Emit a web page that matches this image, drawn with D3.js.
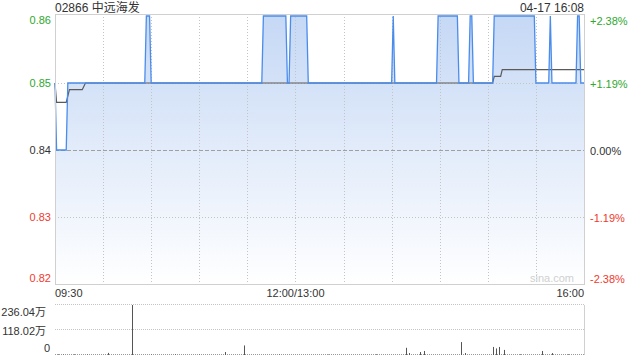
<!DOCTYPE html>
<html>
<head>
<meta charset="utf-8">
<script src="https://cdn.jsdelivr.net/npm/d3@7"></script>
<style>
  body { margin: 0; background: #fff; }
  svg text { font-family: "Liberation Sans", Arial, "Noto Sans CJK SC", sans-serif; }
</style>
</head>
<body>
<div id="chart"></div>
<script>
// minute index from 09:30 (lunch break collapsed), 0..330 = 09:30..16:00
const priceMinutes = [0, 1, 7, 8, 56, 57, 59, 60, 129, 130, 144, 145, 146, 147, 157, 158,
  210, 211, 212, 238, 239, 251, 252, 258, 259, 260, 261, 273, 274, 299, 300,
  308, 309, 310, 325, 326, 327, 328, 330]
const priceValues = [0.85, 0.84, 0.84, 0.85, 0.85, 0.86, 0.86, 0.85, 0.85, 0.86, 0.86, 0.85, 0.85, 0.86, 0.86, 0.85,
  0.85, 0.86, 0.85, 0.85, 0.86, 0.86, 0.85, 0.85, 0.86, 0.86, 0.85, 0.85, 0.86, 0.86, 0.85,
  0.85, 0.86, 0.85, 0.85, 0.86, 0.86, 0.85, 0.85]

const avgMinutes = [0, 1, 7, 9, 17, 19, 273, 274, 278, 279, 330]
const avgValues = [0.85, 0.8471, 0.8471, 0.849, 0.849, 0.85, 0.85, 0.851, 0.851, 0.852, 0.852]

// volume in 万 shares
const volMinutes = [2, 5, 12, 20, 33, 48, 60, 75, 90, 106, 118, 140, 170, 200, 219, 221, 228, 230, 253, 256, 273, 275, 277, 280, 290, 304, 310, 320]
const volValues = [3, 2, 3, 2, 10, 236.04, 2, 3, 2, 14, 45, 2, 2, 3, 34, 9, 14, 19, 61, 9, 38, 31, 38, 24, 3, 19, 9, 3]

const prevClose = 0.84
const priceTicks = [0.86, 0.85, 0.84, 0.83, 0.82]
const pctTicks = ['+2.38%', '+1.19%', '0.00%', '-1.19%', '-2.38%']
const volTicks = [236.04, 118.02, 0]
const volTickLabels = ['236.04万', '118.02万', '0']
const timeTicks = [0, 150, 330]
const timeLabels = ['09:30', '12:00/13:00', '16:00']
const title = '02866 中远海发'
const stamp = '04-17 16:08'

const green = '#2ea82e', red = '#f03a2e', dark = '#333'
const colorFor = (v) => v > prevClose ? green : (v < prevClose ? red : dark)

const width = 640, height = 360,
  left = 55, right = 584

const svg = d3.select('#chart').append('svg')
  .attr('width', width)
  .attr('height', height)

const x = d3.scaleLinear().domain([0, 330]).range([left, right])
const y = d3.scaleLinear().domain([0.82, 0.86]).range([284, 16])
const yv = d3.scaleLinear().domain([0, 236.04]).range([355, 305])

// gradient for area
const grad = svg.append('defs').append('linearGradient')
  .attr('id', 'fillGrad')
  .attr('gradientUnits', 'userSpaceOnUse')
  .attr('x1', 0).attr('y1', y(0.86)).attr('x2', 0).attr('y2', y(0.82))
grad.append('stop').attr('offset', '0%').attr('stop-color', '#c5d8f5')
grad.append('stop').attr('offset', '100%').attr('stop-color', '#ffffff')

// titles
svg.append('text')
  .attr('x', left).attr('y', 11.5)
  .attr('font-size', '12px').attr('fill', dark)
  .text(title)
svg.append('text')
  .attr('x', right).attr('y', 11.5)
  .attr('text-anchor', 'end')
  .attr('font-size', '12px').attr('fill', dark)
  .text(stamp)

const pricePts = priceMinutes.map((m, i) => [m, priceValues[i]])
const avgPts = avgMinutes.map((m, i) => [m, avgValues[i]])

// area
svg.append('path')
  .datum(pricePts)
  .attr('fill', 'url(#fillGrad)')
  .attr('d', d3.area()
    .x((d) => x(d[0]))
    .y0(y(0.82))
    .y1((d) => y(d[1])))

// vertical grid
const vGrid = d3.range(30, 330, 30)
svg.append('g').selectAll('line')
  .data(vGrid)
  .enter().append('line')
  .attr('x1', (d) => Math.round(x(d)) + 0.5).attr('x2', (d) => Math.round(x(d)) + 0.5)
  .attr('y1', 14).attr('y2', 284)
  .attr('stroke', '#c4c4c4').attr('stroke-dasharray', '1,2')

// horizontal grid
svg.append('g').selectAll('line')
  .data(priceTicks.filter((d) => d !== 0.82 && d !== 0.86))
  .enter().append('line')
  .attr('x1', left).attr('x2', right)
  .attr('y1', (d) => Math.round(y(d)) + 0.5).attr('y2', (d) => Math.round(y(d)) + 0.5)
  .attr('stroke', (d) => d === prevClose ? '#a0a0a0' : '#c4c4c4')
  .attr('stroke-dasharray', (d) => d === prevClose ? '4,2' : '1,2')

svg.append('path')
  .datum(avgPts)
  .attr('fill', 'none')
  .attr('stroke', '#5a5a5a')
  .attr('stroke-width', 1.2)
  .attr('d', d3.line().x((d) => x(d[0])).y((d) => y(d[1])))

svg.append('path')
  .datum(pricePts)
  .attr('fill', 'none')
  .attr('stroke', '#4a8cec')
  .attr('stroke-width', 1.3)
  .attr('d', d3.line().x((d) => x(d[0])).y((d) => y(d[1])))

// border
svg.append('rect')
  .attr('x', left + 0.5).attr('y', 14.5)
  .attr('width', right - left).attr('height', 284 - 14)
  .attr('fill', 'none').attr('stroke', '#d0d0d0')

// watermark
svg.append('text')
  .attr('x', right - 10).attr('y', 282)
  .attr('text-anchor', 'end')
  .attr('font-size', '11px').attr('fill', '#d0d0d0')
  .text('sina.com')

// y labels
const labelY = (v) => Math.min(Math.max(y(v), 20), 278)
svg.append('g').selectAll('text')
  .data(priceTicks)
  .enter().append('text')
  .attr('x', 51).attr('y', (d) => labelY(d))
  .attr('dy', '0.35em')
  .attr('text-anchor', 'end')
  .attr('font-size', '11px')
  .attr('fill', (d) => colorFor(d))
  .text((d) => d.toFixed(2))

svg.append('g').selectAll('text')
  .data(priceTicks)
  .enter().append('text')
  .attr('x', 590).attr('y', (d) => labelY(d) + 1)
  .attr('dy', '0.35em')
  .attr('font-size', '11px')
  .attr('fill', (d) => colorFor(d))
  .text((d, i) => pctTicks[i])

// time labels
svg.append('g').selectAll('text')
  .data(timeTicks)
  .enter().append('text')
  .attr('x', (d) => x(d))
  .attr('y', 297)
  .attr('text-anchor', (d, i) => i === 0 ? 'start' : (i === timeTicks.length - 1 ? 'end' : 'middle'))
  .attr('font-size', '11px').attr('fill', dark)
  .text((d, i) => timeLabels[i])

// volume grid
svg.append('g').selectAll('line')
  .data(volTicks)
  .enter().append('line')
  .attr('x1', left).attr('x2', right)
  .attr('y1', (d) => Math.round(yv(d)) - 0.5).attr('y2', (d) => Math.round(yv(d)) - 0.5)
  .attr('stroke', (d) => d === 0 ? '#999' : '#c4c4c4')
  .attr('stroke-dasharray', '1,1')

svg.append('line')
  .attr('x1', right + 0.5).attr('x2', right + 0.5)
  .attr('y1', 305).attr('y2', 355)
  .attr('stroke', '#d0d0d0')

svg.append('g').selectAll('line')
  .data(volMinutes.map((m, i) => [m, volValues[i]]))
  .enter().append('line')
  .attr('x1', (d) => Math.round(x(d[0])) + 0.5).attr('x2', (d) => Math.round(x(d[0])) + 0.5)
  .attr('y1', yv(0)).attr('y2', (d) => yv(d[1]))
  .attr('stroke', '#555').attr('stroke-width', 1)

const volLabelY = [312, 331.5, 348]
svg.append('g').selectAll('text')
  .data(volTicks)
  .enter().append('text')
  .attr('x', (d) => d === 0 ? 50 : 46)
  .attr('y', (d, i) => volLabelY[i])
  .attr('dy', '0.35em')
  .attr('text-anchor', 'end')
  .attr('font-size', '11px').attr('fill', dark)
  .text((d, i) => volTickLabels[i])
</script>
</body>
</html>
